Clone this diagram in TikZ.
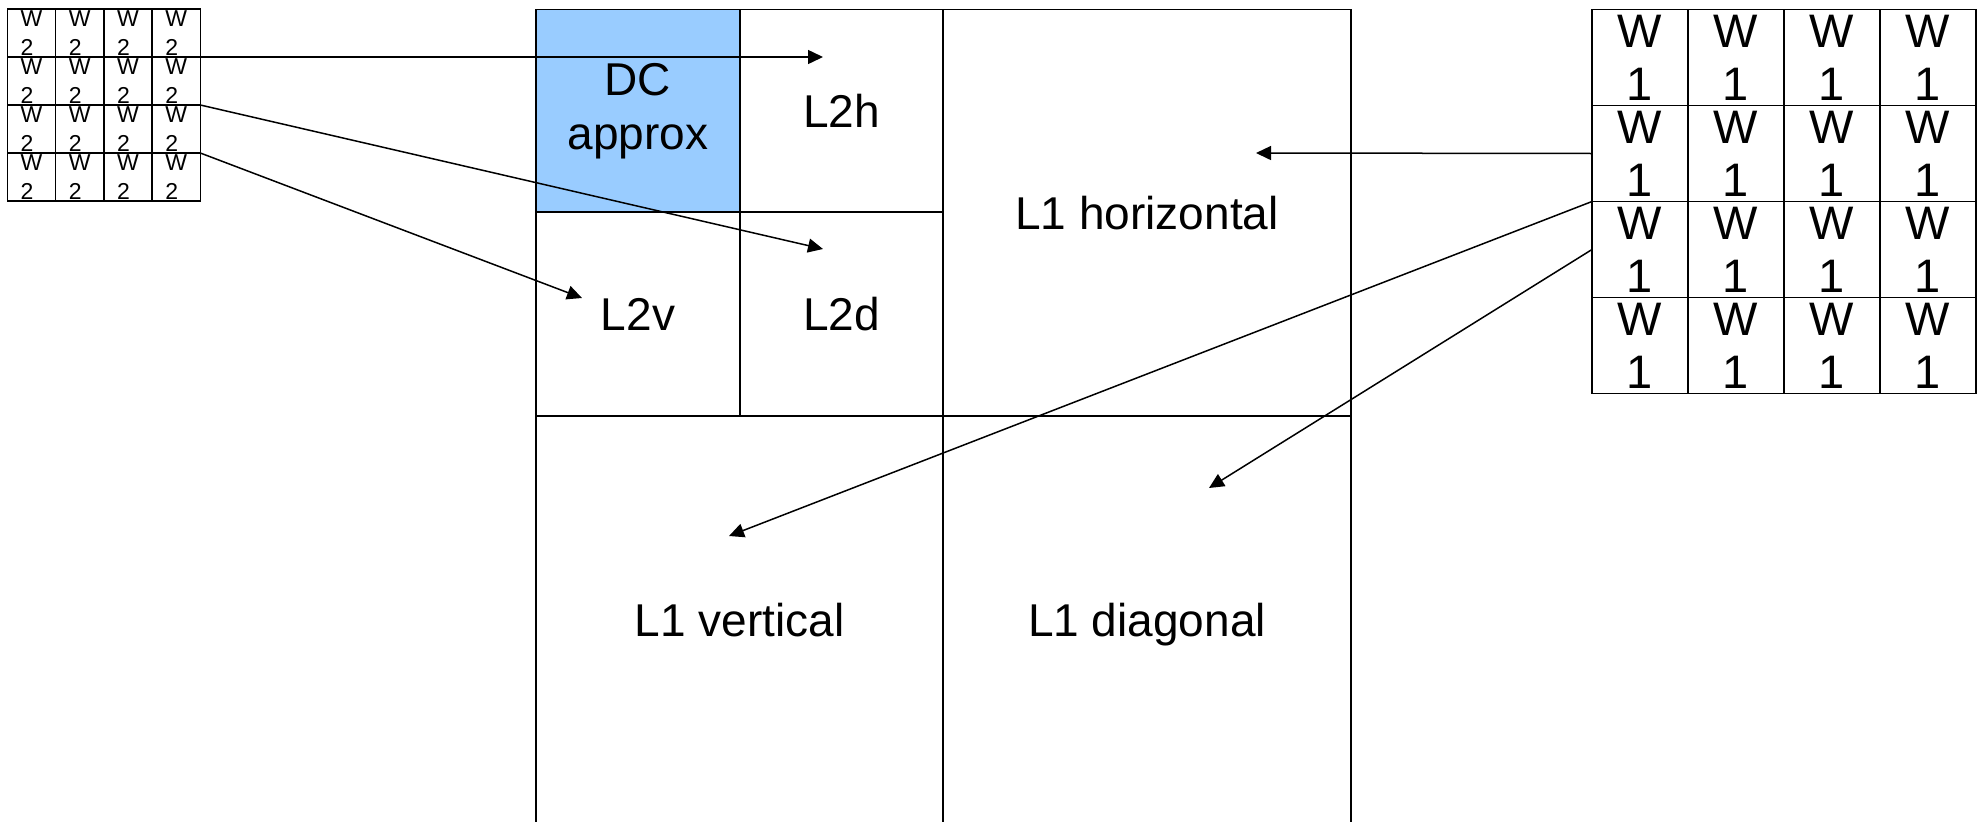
\documentclass[tikz,border=0pt]{standalone}
\usepackage{fontspec}
\setmainfont{Liberation Sans}
\usetikzlibrary{arrows.meta}
\definecolor{dcblue}{RGB}{153,204,255}

\begin{document}
\begin{tikzpicture}[x=1pt,y=-1pt,
  box/.style={draw, line width=1.5pt, inner sep=0pt, outer sep=0pt, anchor=north west,
    align=center, font=\fontsize{46}{54}\selectfont},
  oneline/.style={text depth=0pt},
  smallcell/.style={draw, line width=1.5pt, inner sep=0pt, outer sep=0pt,
    minimum width=48.2pt, minimum height=48pt},
  bigcell/.style={draw, line width=1.5pt, inner sep=0pt, outer sep=0pt,
    minimum width=96pt, minimum height=96pt},
  smalltxt/.style={inner sep=0pt, align=left, font=\fontsize{23}{29.5}\selectfont},
  bigtxt/.style={inner sep=0pt, align=center, font=\fontsize{47}{53}\selectfont},
  arrow/.style={line width=1.5pt, -{Triangle[length=15pt,width=14pt]}}]

\useasboundingbox (0,0) rectangle (1979,822);
\clip (0,0) rectangle (1979,822);

% subband layout
\node[box, fill=dcblue, minimum width=204pt, minimum height=202.5pt] (dc) at (536,9.5) {DC\\approx};
\node[box, oneline, minimum width=203pt, minimum height=202.5pt] (l2h) at (740,9.5) {L2h};
\node[box, oneline, minimum width=204pt, minimum height=204pt] (l2v) at (536,212) {L2v};
\node[box, oneline, minimum width=203pt, minimum height=204pt] (l2d) at (740,212) {L2d};
\node[box, oneline, minimum width=408pt, minimum height=406.5pt] (l1h) at (943,9.5) {L1 horizontal};
\node[box, oneline, minimum width=407pt, minimum height=408pt] (l1v) at (536,416) {L1 vertical};
\node[box, oneline, minimum width=408pt, minimum height=408pt] (l1d) at (943,416) {L1 diagonal};

% level-2 weight grid
\foreach \r in {1,...,4} {
  \foreach \c in {1,...,4} {
    \node[smallcell] (w\r\c) at ({7.5+48.2*(\c-0.5)}, {9+48*(\r-0.5)}) {};
    \node[smalltxt] at (w\r\c) {W\\2};
  }
}

% level-1 weight grid
\foreach \r in {1,...,4} {
  \foreach \c in {1,...,4} {
    \node[bigcell] (v\r\c) at ({1592+96*(\c-0.5)}, {9.5+96*(\r-0.5)}) {};
    \node[bigtxt] at (v\r\c) {W\\1};
  }
}

% arrow targets
\coordinate (t2h) at (823,57);
\coordinate (t2d) at (823,249);
\coordinate (t2v) at (582,298);
\coordinate (t1h) at (1256,153);
\coordinate (t1v) at (729,536);
\coordinate (t1d) at (1209,488);

\draw[arrow] (w14.south east) -- (t2h);
\draw[arrow] (w24.south east) -- (t2d);
\draw[arrow] (w34.south east) -- (t2v);
\draw[arrow] (v21.west) -- (t1h);
\draw[arrow] (v21.south west) -- (t1v);
\draw[arrow] (v31.west) -- (t1d);
\end{tikzpicture}
\end{document}
